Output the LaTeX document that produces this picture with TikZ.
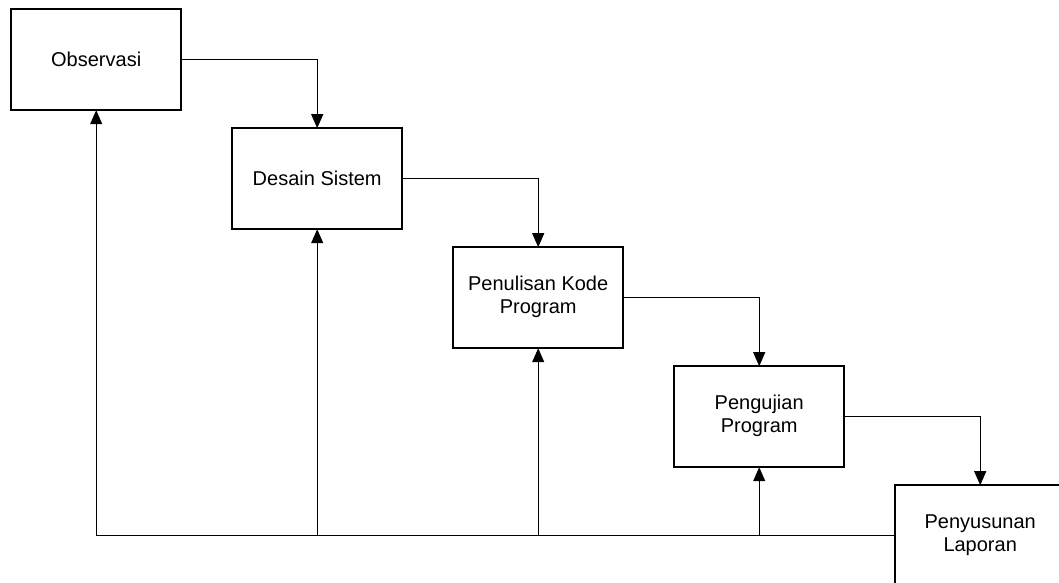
\documentclass[tikz,border=0pt]{standalone}
\usepackage{fontspec}
\setmainfont{Liberation Sans}
\usepackage{tikz}
\usetikzlibrary{matrix,arrows.meta}

\newcommand{\twolines}[2]{\begin{tabular}{@{}c@{}}#1\\#2\end{tabular}}
\tikzset{elbow/.style={to path={-| (\tikztotarget) \tikztonodes}}}

\begin{document}
\begin{tikzpicture}[x=1pt, y=-1pt, >={Triangle[length=14pt,width=12pt]}]
  \useasboundingbox (0,0) rectangle (1059,582);
  \matrix (m) [matrix of nodes, row sep=16pt, column sep=49pt, inner sep=0pt, anchor=north west,
     nodes={draw, line width=2pt, minimum width=170pt, minimum height=101pt, outer sep=0pt,
            font=\fontsize{20}{23}\selectfont}] at (10,8)
         {
            Observasi & & & & \\
            & Desain Sistem & & & \\
            & & \twolines{Penulisan Kode}{Program} & & \\
            & & & \twolines{Pengujian}{Program} & \\
            & & & & \twolines{Penyusunan}{Laporan} \\
  };
  \path[->, line width=1pt]
  (m-1-1) edge[elbow] (m-2-2)
  (m-2-2) edge[elbow] (m-3-3)
  (m-3-3) edge[elbow] (m-4-4)
  (m-4-4) edge[elbow] (m-5-5)
  ;
  \path[->, line width=1pt]
  (m-5-5) edge[elbow] (m-1-1)
  (m-2-2 |- m-5-5) edge (m-2-2)
  (m-3-3 |- m-5-5) edge (m-3-3)
  (m-4-4 |- m-5-5) edge (m-4-4)
  ;
\end{tikzpicture}
\end{document}
